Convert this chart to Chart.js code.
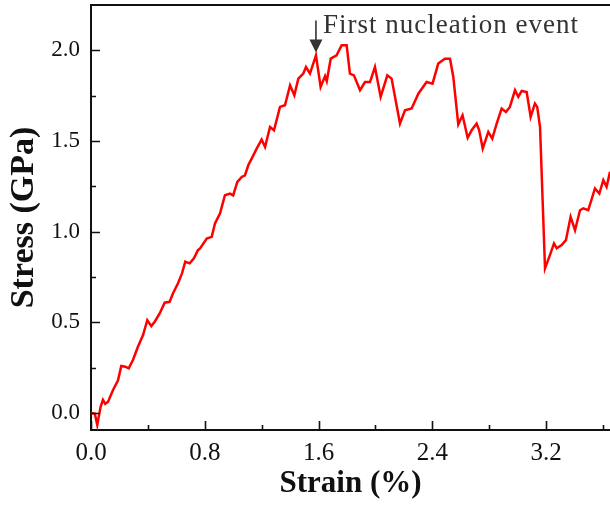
<!DOCTYPE html>
<html>
<head>
<meta charset="utf-8">
<script src="https://cdn.jsdelivr.net/npm/chart.js@4/dist/chart.umd.min.js"></script>
<style>
  html, body { margin: 0; padding: 0; background: #fff; }
  #wrap { width: 610px; height: 506px; }
</style>
</head>
<body>
<div id="wrap"><canvas id="c" width="610" height="506"></canvas></div>
<script>
// ---- data ----
const strain = [
  0.0, 0.027, 0.044, 0.068, 0.084, 0.10, 0.12, 0.155, 0.19, 0.213, 0.241, 0.265, 0.295, 0.33, 0.366,
  0.396, 0.424, 0.448, 0.483, 0.518, 0.553, 0.577, 0.612, 0.64, 0.663, 0.694, 0.724, 0.752, 0.767,
  0.814, 0.849, 0.872, 0.907, 0.942, 0.977, 1.0, 1.029, 1.06, 1.083, 1.106, 1.13, 1.165, 1.2, 1.224,
  1.259, 1.287, 1.329, 1.364, 1.40, 1.43, 1.458, 1.493, 1.512, 1.54, 1.582, 1.615, 1.646, 1.658,
  1.686, 1.727, 1.763, 1.798, 1.821, 1.849, 1.892, 1.927, 1.962, 1.997, 2.037, 2.084, 2.114, 2.173,
  2.208, 2.255, 2.302, 2.36, 2.402, 2.442, 2.489, 2.525, 2.548, 2.583, 2.613, 2.649, 2.677, 2.712,
  2.73, 2.755, 2.794, 2.822, 2.853, 2.888, 2.918, 2.946, 2.982, 3.005, 3.029, 3.064, 3.092, 3.122,
  3.138, 3.158, 3.193, 3.223, 3.256, 3.275, 3.31, 3.34, 3.373, 3.404, 3.439, 3.462, 3.497, 3.544,
  3.575, 3.603, 3.626, 3.65
];
const stress = [
  0.0, -0.004, -0.066, 0.035, 0.072, 0.05, 0.062, 0.127, 0.18, 0.259, 0.255, 0.246, 0.292, 0.365, 0.43,
  0.512, 0.479, 0.503, 0.549, 0.608, 0.613, 0.66, 0.715, 0.77, 0.834, 0.825, 0.853, 0.898, 0.907,
  0.962, 0.971, 1.045, 1.10, 1.201, 1.21, 1.2, 1.274, 1.302, 1.311, 1.366, 1.403, 1.458, 1.508, 1.467,
  1.577, 1.559, 1.688, 1.697, 1.807, 1.752, 1.844, 1.872, 1.908, 1.872, 1.972, 1.798, 1.858, 1.83,
  1.954, 1.972, 2.028, 2.028, 1.872, 1.862, 1.78, 1.825, 1.825, 1.908, 1.743, 1.862, 1.844, 1.596,
  1.669, 1.679, 1.761, 1.825, 1.816, 1.927, 1.954, 1.954, 1.853, 1.592, 1.642, 1.518, 1.559, 1.596,
  1.559, 1.458, 1.55, 1.513, 1.596, 1.679, 1.66, 1.688, 1.78, 1.743, 1.776, 1.77, 1.633, 1.706,
  1.688, 1.577, 0.797, 0.861, 0.935, 0.908, 0.926, 0.953, 1.082, 1.008, 1.118, 1.128, 1.118, 1.238,
  1.21, 1.284, 1.247, 1.33
];
const xTicks = [0.0, 0.8, 1.6, 2.4, 3.2];
const xMinorTicks = [0.4, 1.2, 2.0, 2.8, 3.6];
const yTicks = [0.0, 0.5, 1.0, 1.5, 2.0];
const yMinorTicks = [0.25, 0.75, 1.25, 1.75];
const xTitle = 'Strain (%)';
const yTitle = 'Stress (GPa)';
const noteText = 'First nucleation event';
const notePoint = { x: 1.582, y: 1.972 };

const points = strain.map((s, i) => ({ x: s, y: stress[i] }));

const axisColor = '#111';
const serif = '"Liberation Serif", "Times New Roman", serif';

const decorPlugin = {
  id: 'decor',
  afterDraw(chart) {
    const ctx = chart.ctx;
    const xs = chart.scales.x, ys = chart.scales.y;
    const area = chart.chartArea;
    ctx.save();
    ctx.strokeStyle = axisColor;
    ctx.lineWidth = 2;
    // top frame line
    ctx.beginPath();
    ctx.moveTo(area.left - 1, area.top);
    ctx.lineTo(area.right, area.top);
    ctx.stroke();
    // inward ticks
    ctx.lineWidth = 1.6;
    ctx.beginPath();
    xTicks.forEach(v => { const px = Math.round(xs.getPixelForValue(v)) + 0.5; ctx.moveTo(px, area.bottom); ctx.lineTo(px, area.bottom - 9); });
    xMinorTicks.forEach(v => { const px = Math.round(xs.getPixelForValue(v)) + 0.5; ctx.moveTo(px, area.bottom); ctx.lineTo(px, area.bottom - 5); });
    yTicks.forEach(v => { const py = Math.round(ys.getPixelForValue(v)) + 0.5; ctx.moveTo(area.left, py); ctx.lineTo(area.left + 9, py); });
    yMinorTicks.forEach(v => { const py = Math.round(ys.getPixelForValue(v)) + 0.5; ctx.moveTo(area.left, py); ctx.lineTo(area.left + 5, py); });
    ctx.stroke();
    // annotation arrow
    const ax = xs.getPixelForValue(notePoint.x);
    const ay = ys.getPixelForValue(notePoint.y) - 3;
    ctx.strokeStyle = '#333';
    ctx.fillStyle = '#333';
    ctx.lineWidth = 1.6;
    ctx.beginPath();
    ctx.moveTo(ax, ay - 32);
    ctx.lineTo(ax, ay - 12);
    ctx.stroke();
    ctx.beginPath();
    ctx.moveTo(ax - 6.5, ay - 13);
    ctx.lineTo(ax + 6.5, ay - 13);
    ctx.lineTo(ax, ay);
    ctx.closePath();
    ctx.fill();
    // annotation text
    ctx.font = '27px ' + serif;
    ctx.textBaseline = 'alphabetic';
    ctx.textAlign = 'left';
    try { ctx.letterSpacing = '1px'; } catch (e) {}
    ctx.fillText(noteText, ax + 7, ay - 19);
    ctx.restore();
  }
};

new Chart(document.getElementById('c'), {
  type: 'scatter',
  data: {
    datasets: [{
      data: points,
      showLine: true,
      borderColor: '#ff0000',
      borderWidth: 2.5,
      pointRadius: 0,
      tension: 0,
      fill: false
    }]
  },
  options: {
    responsive: false,
    animation: false,
    layout: { padding: { top: 5, right: 0, bottom: 0, left: 0 } },
    plugins: { legend: { display: false }, tooltip: { enabled: false } },
    scales: {
      x: {
        type: 'linear',
        min: 0,
        max: 3.65,
        afterFit(scale) { scale.height = 76; scale.paddingLeft = 0; scale.paddingRight = 0; },
        afterBuildTicks(scale) { scale.ticks = xTicks.map(v => ({ value: v })); },
        grid: { display: false, drawTicks: false },
        border: { display: true, color: axisColor, width: 2 },
        ticks: {
          color: '#111',
          font: { family: serif, size: 25 },
          padding: 8,
          maxRotation: 0,
          autoSkip: false,
          callback: v => Number(v).toFixed(1)
        },
        title: {
          display: true,
          text: xTitle,
          color: '#111',
          font: { family: serif, size: 31, weight: 'bold' },
          padding: { top: 0, bottom: 3 }
        }
      },
      y: {
        type: 'linear',
        min: -0.094,
        max: 2.25,
        afterFit(scale) { scale.width = 91; scale.paddingTop = 0; scale.paddingBottom = 0; },
        afterBuildTicks(scale) { scale.ticks = yTicks.map(v => ({ value: v })); },
        grid: { display: false, drawTicks: false },
        border: { display: true, color: axisColor, width: 2 },
        ticks: {
          color: '#111',
          font: { family: serif, size: 23 },
          padding: 11,
          autoSkip: false,
          callback: v => Number(v).toFixed(1)
        },
        title: {
          display: true,
          text: yTitle,
          color: '#111',
          font: { family: serif, size: 34, weight: 'bold' },
          padding: { top: 4, bottom: 0 }
        }
      }
    }
  },
  plugins: [decorPlugin]
});
</script>
</body>
</html>
